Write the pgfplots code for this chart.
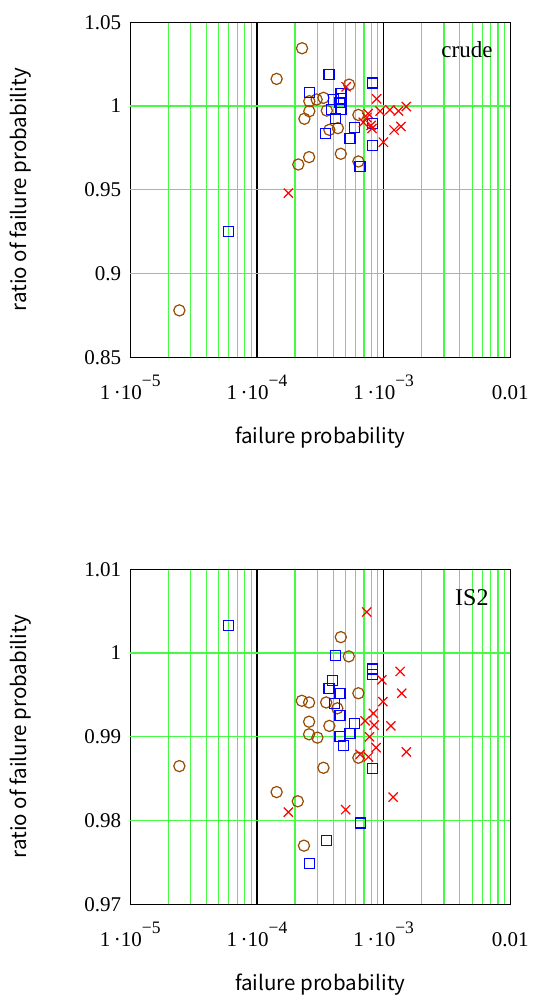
\documentclass[border=0pt]{standalone}
\usepackage{fontspec}
\setmainfont{Liberation Serif}
\newfontfamily\labfont{Noto Sans CJK JP}
\usepackage{pgfplots}
\pgfplotsset{compat=1.18}
\definecolor{brownc}{RGB}{150,75,0}
\definecolor{gridg}{RGB}{70,250,70}
\newcommand\tl[1]{1\,·10\raisebox{0.6em}{\fontsize{17.5bp}{17.5bp}\selectfont −#1}}
\pgfplotsset{
  circ/.style={only marks, color=brownc, mark=o, mark size=5.6bp, line width=1.2bp, mark options={solid, draw=brownc}},
  sq/.style={only marks, color=blue, mark=square, mark size=5bp, line width=1.2bp, mark options={solid, draw=blue}},
  cr/.style={only marks, color=red, mark=x, mark size=6.5bp, line width=1.2bp, mark options={solid, draw=red}},
}
\begin{document}
\begin{tikzpicture}
\path[use as bounding box] (0bp,0bp) rectangle (537bp,996bp);
% ---------- top: crude
\begin{axis}[xmode=log, scale only axis, width=380bp, height=335bp,
    xmin=1e-5, xmax=1e-2,
    xtick={1e-5,1e-4,1e-3,1e-2},
    xticklabels={\tl{5},\tl{4},\tl{3},0.01},
    xminorgrids=true,
    grid style={draw=gridg, line width=1.2bp},
    minor grid style={draw=gridg, line width=1.2bp},
    major grid style={draw=gridg, line width=1.2bp},
    extra x ticks={1e-4,1e-3}, extra x tick labels={},
    extra x tick style={grid=major, major grid style={draw=black, line width=1.3bp}},
    extra y ticks={0.9,0.95,1}, extra y tick labels={},
    extra y tick style={grid=major, major grid style={draw=gridg, line width=1.4bp}},
    major tick length=0pt, minor tick length=0pt,
    axis line style={black, line width=1.4bp},
    tick label style={font=\fontsize{21bp}{21bp}\selectfont},
    xticklabel style={anchor=base, inner sep=0pt, yshift=-42bp},
    yticklabel style={anchor=east, inner sep=0pt, xshift=-9bp},
    xlabel={failure probability}, ylabel={ratio of failure probability},
    label style={font=\labfont\fontsize{20.5bp}{20.5bp}\selectfont},
    xlabel style={at={(axis description cs:0.5,-0.24)}, anchor=center},
    ylabel style={at={(axis description cs:-0.289,0.5)}, anchor=center},
    at={(130.3bp,638.7bp)}, anchor=south west,
  ymin=0.85, ymax=1.05, ytick={0.85,0.9,0.95,1,1.05},
  yticklabels={0.85,0.9,0.95,1,1.05}]
\addplot[circ] table {
2.27e-4 1.0345
1.43e-4 1.0162
5.34e-4 1.0128
2.59e-4 1.0029
2.96e-4 1.0039
3.35e-4 1.0049
2.59e-4 0.9969
2.37e-4 0.9924
3.56e-4 0.9973
6.32e-4 0.9947
3.73e-4 0.9858
4.35e-4 0.9868
2.58e-4 0.9695
2.12e-4 0.9651
4.59e-4 0.9715
6.32e-4 0.9669
2.44e-5 0.878
};
\addplot[sq] table {
3.71e-4 1.0186
8.15e-4 1.0138
2.59e-4 1.0082
4.61e-4 1.0073
4.01e-4 1.0037
4.68e-4 1.0043
4.53e-4 1.0019
3.90e-4 0.9977
4.61e-4 0.9977
4.19e-4 0.9927
5.87e-4 0.9873
8.15e-4 0.9894
3.49e-4 0.9838
5.43e-4 0.9804
8.15e-4 0.9764
6.52e-4 0.9639
5.94e-5 0.9253
};
\addplot[cr] table {
5.06e-4 1.0115
8.81e-4 1.0043
9.38e-4 0.9970
1.12e-3 0.9977
1.31e-3 0.9970
1.51e-3 0.9997
7.36e-4 0.9931
6.92e-4 0.9903
7.96e-4 0.9884
1.21e-3 0.9857
1.37e-3 0.9878
9.95e-4 0.9784
1.77e-4 0.9480
7.55e-4 0.9955
8.10e-4 0.9866
};
\node[font=\fontsize{23bp}{23bp}\selectfont] at (axis description cs:0.886,0.917) {crude};
\end{axis}
% ---------- bottom: IS2
\begin{axis}[xmode=log, scale only axis, width=380bp, height=335bp,
    xmin=1e-5, xmax=1e-2,
    xtick={1e-5,1e-4,1e-3,1e-2},
    xticklabels={\tl{5},\tl{4},\tl{3},0.01},
    xminorgrids=true,
    grid style={draw=gridg, line width=1.2bp},
    minor grid style={draw=gridg, line width=1.2bp},
    major grid style={draw=gridg, line width=1.2bp},
    extra x ticks={1e-4,1e-3}, extra x tick labels={},
    extra x tick style={grid=major, major grid style={draw=black, line width=1.3bp}},
    extra y ticks={0.98,0.99,1}, extra y tick labels={},
    extra y tick style={grid=major, major grid style={draw=gridg, line width=1.4bp}},
    major tick length=0pt, minor tick length=0pt,
    axis line style={black, line width=1.4bp},
    tick label style={font=\fontsize{21bp}{21bp}\selectfont},
    xticklabel style={anchor=base, inner sep=0pt, yshift=-42bp},
    yticklabel style={anchor=east, inner sep=0pt, xshift=-9bp},
    xlabel={failure probability}, ylabel={ratio of failure probability},
    label style={font=\labfont\fontsize{20.5bp}{20.5bp}\selectfont},
    xlabel style={at={(axis description cs:0.5,-0.24)}, anchor=center},
    ylabel style={at={(axis description cs:-0.289,0.5)}, anchor=center},
    at={(130.3bp,91.7bp)}, anchor=south west,
  ymin=0.97, ymax=1.01, ytick={0.97,0.98,0.99,1,1.01},
  yticklabels={0.97,0.98,0.99,1,1.01}]
\addplot[circ] table {
4.59e-4 1.0019
5.31e-4 0.9996
6.32e-4 0.9952
2.26e-4 0.9943
2.58e-4 0.9941
3.52e-4 0.9941
4.31e-4 0.9934
2.58e-4 0.9918
3.73e-4 0.9913
2.58e-4 0.9903
3.00e-4 0.9899
6.32e-4 0.9875
2.44e-5 0.9865
3.35e-4 0.9863
1.43e-4 0.9834
2.10e-4 0.9823
2.35e-4 0.9770
};
\addplot[sq] table {
5.94e-5 1.0033
4.19e-4 0.9997
8.15e-4 0.9981
8.15e-4 0.9974
3.94e-4 0.9967
3.71e-4 0.9958
4.53e-4 0.9952
4.08e-4 0.9940
4.53e-4 0.9925
5.87e-4 0.9916
5.43e-4 0.9904
4.53e-4 0.9900
4.81e-4 0.9890
8.15e-4 0.9862
6.61e-4 0.9797
3.52e-4 0.9776
2.61e-4 0.9749
};
\addplot[cr] table {
7.36e-4 1.0049
1.35e-3 0.9978
9.68e-4 0.9968
1.39e-3 0.9952
9.86e-4 0.9942
8.30e-4 0.9928
7.14e-4 0.9919
8.42e-4 0.9914
1.14e-3 0.9913
7.73e-4 0.9900
8.73e-4 0.9887
6.52e-4 0.9879
7.59e-4 0.9876
1.51e-3 0.9882
1.19e-3 0.9828
5.02e-4 0.9813
1.77e-4 0.9810
};
\node[font=\fontsize{24bp}{24bp}\selectfont] at (axis description cs:0.899,0.9165) {IS2};
\end{axis}
\end{tikzpicture}
\end{document}
